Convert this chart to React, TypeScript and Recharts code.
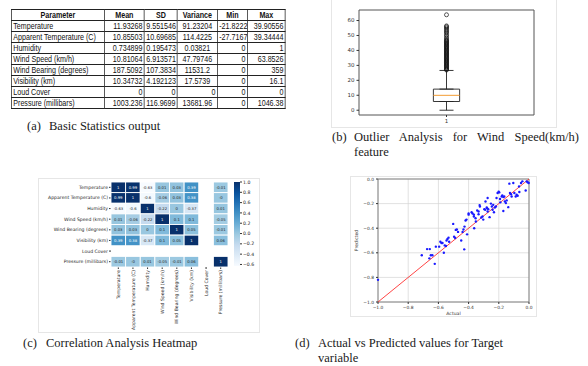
import React from 'react';
import {
  ScatterChart, Scatter, XAxis, YAxis, CartesianGrid, ReferenceArea, ReferenceLine,
  ErrorBar, BarChart, Bar,
} from 'recharts';

// (a) basic statistics table
const statHeaders = ['Parameter', 'Mean', 'SD', 'Variance', 'Min', 'Max'];
const statParams = ['Temperature', 'Apparent Temperature (C)', 'Humidity', 'Wind Speed (km/h)', 'Wind Bearing (degrees)', 'Visibility (km)', 'Loud Cover', 'Pressure (millibars)'];
const statMean = ['11.93268', '10.85503', '0.734899', '10.81064', '187.5092', '10.34732', '0', '1003.236'];
const statSd = ['9.551546', '10.69685', '0.195473', '6.913571', '107.3834', '4.192123', '0', '116.9699'];
const statVariance = ['91.23204', '114.4225', '0.03821', '47.79746', '11531.2', '17.5739', '0', '13681.96'];
const statMin = ['-21.8222', '-27.7167', '0', '0', '0', '0', '0', '0'];
const statMax = ['39.90556', '39.34444', '1', '63.8526', '359', '16.1', '0', '1046.38'];

// (b) wind speed box plot: whisker low, Q1, median, Q3, whisker high
const windBox = [0, 5.83, 9.97, 14.12, 26.6];
const windOutliers = [26.9, 27.4, 27.9, 28.5, 29.0, 29.6, 30.1, 30.6, 31.2, 31.7, 32.2, 32.8, 33.3, 33.8, 34.4,
  34.9, 35.4, 36.0, 36.5, 37.0, 37.6, 38.1, 38.6, 39.2, 39.7, 40.2, 40.8, 41.3, 41.9, 42.4, 42.9, 43.5, 44.0,
  44.6, 45.1, 45.6, 46.2, 46.7, 47.3, 48.3, 49.4, 50.4, 51.5, 52.4, 53.2, 54.1, 55.0, 55.8, 56.4, 63.85];
const windTicks = [0, 10, 20, 30, 40, 50, 60];

// (c) correlation heatmap
const corrLabels = ['Temperature', 'Apparent Temperature (C)', 'Humidity', 'Wind Speed (km/h)', 'Wind Bearing (degrees)', 'Visibility (km)', 'Loud Cover', 'Pressure (millibars)'];
const corrMatrix: (number | null)[][] = [
  [1, 0.99, -0.63, 0.01, 0.03, 0.39, null, -0.01],
  [0.99, 1, -0.6, -0.06, 0.03, 0.38, null, -0],
  [-0.63, -0.6, 1, -0.22, 0, -0.37, null, 0.01],
  [0.01, -0.06, -0.22, 1, 0.1, 0.1, null, -0.05],
  [0.03, 0.03, 0, 0.1, 1, 0.05, null, -0.01],
  [0.39, 0.38, -0.37, 0.1, 0.05, 1, null, 0.06],
  [null, null, null, null, null, null, null, null],
  [-0.01, -0, 0.01, -0.05, -0.01, 0.06, null, 1],
];
const corrTicks = [-0.6, -0.4, -0.2, 0, 0.2, 0.4, 0.6, 0.8, 1.0];

// (d) actual vs predicted
const actual = [-1.0, -0.71, -0.675, -0.657, -0.66, -0.65, -0.64, -0.624, -0.617, -0.595, -0.587, -0.58, -0.573,
  -0.564, -0.558, -0.55, -0.546, -0.54, -0.533, -0.529, -0.502, -0.496, -0.489, -0.485, -0.478, -0.47, -0.449,
  -0.44, -0.434, -0.427, -0.429, -0.42, -0.414, -0.41, -0.4, -0.4, -0.38, -0.374, -0.365, -0.365, -0.363, -0.354,
  -0.352, -0.343, -0.334, -0.334, -0.327, -0.325, -0.316, -0.308, -0.303, -0.296, -0.29, -0.288, -0.28, -0.277,
  -0.274, -0.27, -0.274, -0.261, -0.252, -0.246, -0.241, -0.237, -0.232, -0.226, -0.219, -0.215, -0.208, -0.201,
  -0.197, -0.192, -0.19, -0.181, -0.177, -0.17, -0.164, -0.17, -0.16, -0.153, -0.148, -0.137, -0.13, -0.126,
  -0.119, -0.115, -0.104, -0.097, -0.088, -0.082, -0.075, -0.064, -0.066, -0.053, -0.044, -0.022, -0.015, -0.009, -0.002];
const predicted = [-0.82, -0.62, -0.57, -0.57, -0.645, -0.62, -0.62, -0.69, -0.55, -0.55, -0.51, -0.52, -0.52,
  -0.6, -0.54, -0.545, -0.5, -0.487, -0.477, -0.51, -0.365, -0.47, -0.48, -0.414, -0.41, -0.43, -0.5,
  -0.43, -0.41, -0.387, -0.572, -0.338, -0.33, -0.45, -0.28, -0.29, -0.27, -0.28, -0.29, -0.305, -0.4, -0.319,
  -0.346, -0.256, -0.264, -0.286, -0.212, -0.223, -0.313, -0.305, -0.33, -0.245, -0.25, -0.183, -0.232, -0.237,
  -0.264, -0.245, -0.155, -0.31, -0.2, -0.223, -0.25, -0.21, -0.27, -0.232, -0.223, -0.155, -0.114, -0.104,
  -0.109, -0.163, -0.19, -0.142, -0.133, -0.147, -0.142, -0.26, -0.183, -0.196, -0.174, -0.229, -0.038, -0.114,
  -0.123, -0.142, -0.033, -0.114, -0.142, -0.128, -0.136, -0.106, -0.06, -0.033, -0.019, -0.093, -0.019, -0.027, -0.033];
const unitTicks = [-1.0, -0.8, -0.6, -0.4, -0.2, 0.0];

const BLUES = ['#f7fbff', '#deebf7', '#c6dbef', '#9ecae1', '#6baed6', '#4292c6', '#2171b5', '#08519c', '#08306b'];
const V_MIN = -0.63;
const V_MAX = 1;

const hexToRgb = (h: string) => [1, 3, 5].map(i => parseInt(h.slice(i, i + 2), 16));

const blues = (v: number) => {
  const t = Math.max(0, Math.min(1, (v - V_MIN) / (V_MAX - V_MIN)));
  const p = t * 8;
  const i = Math.min(7, Math.floor(p));
  const f = p - i;
  const a = hexToRgb(BLUES[i]);
  const b = hexToRgb(BLUES[i + 1]);
  return a.map((x, k) => Math.round(x + (b[k] - x) * f));
};

const luminance = (c: number[]) => {
  const l = c.map(x => {
    const s = x / 255;
    return s <= 0.03928 ? s / 12.92 : Math.pow((s + 0.055) / 1.055, 2.4);
  });
  return 0.2126 * l[0] + 0.7152 * l[1] + 0.0722 * l[2];
};

const fmtCorr = (v: number) => (v === 0 && 1 / v < 0 ? '-0' : String(v));
const fmtMinus = (v: number) => v.toFixed(1).replace('-', '\u2212');

const MPL = "'DejaVu Sans', sans-serif";
const SERIF = "'Liberation Serif', 'Times New Roman', serif";

// table is drawn wide and squeezed horizontally to get the narrow look
const TABLE_SQUEEZE = 0.75;
const colWidths = [93, 40, 33, 40, 30, 38];

// heatmap geometry
const HM_W = 194;
const HM_H = 155;
const HM_MARGIN = { top: 4, right: 4, bottom: 6, left: 0 };
const HM_YAXIS_W = 73;
const HM_XAXIS_H = 60;
const CELL_W = (HM_W - HM_MARGIN.left - HM_MARGIN.right - HM_YAXIS_W) / 8;
const CELL_H = (HM_H - HM_MARGIN.top - HM_MARGIN.bottom - HM_XAXIS_H) / 8;

const heatCells = corrMatrix.flatMap((row, r) =>
  row.map((v, c) => ({ x: c + 0.5, y: r + 0.5, v })).filter(d => d.v !== null)
);

const HeatCell = (props: any) => {
  const { cx, cy, payload } = props;
  const rgb = blues(payload.v);
  const textColor = luminance(rgb) > 0.408 ? '#262626' : '#ffffff';
  return (
    <g>
      <rect x={cx - CELL_W / 2} y={cy - CELL_H / 2} width={CELL_W} height={CELL_H}
        fill={`rgb(${rgb.join(',')})`} stroke="#ffffff" strokeWidth={0.9} />
      <text x={cx} y={cy} textAnchor="middle" dominantBaseline="central" fontSize={3.8}
        fontFamily={MPL} fill={textColor}>{fmtCorr(payload.v)}</text>
    </g>
  );
};

const RotatedTick = (props: any) => {
  const { x, y, payload } = props;
  return (
    <g transform={`translate(${x},${y})`}>
      <text transform="rotate(-90)" textAnchor="end" dy={1.6} fontSize={4.6} fontFamily={MPL} fill="#262626">
        {corrLabels[Math.floor(payload.value)]}
      </text>
    </g>
  );
};

const RowTick = (props: any) => {
  const { x, y, payload } = props;
  return (
    <text x={x} y={y} textAnchor="end" dominantBaseline="central" fontSize={4.6} fontFamily={MPL} fill="#262626">
      {corrLabels[Math.floor(payload.value)]}
    </text>
  );
};

const boxData = [{ x: 1, y: windBox[3], err: [0, windBox[4] - windBox[3]] }, { x: 1, y: windBox[1], err: [windBox[1] - windBox[0], 0] }];
const outlierData = windOutliers.map(v => ({ x: 1, y: v }));
const avpData = actual.map((a, i) => ({ a, p: predicted[i] }));

const panelBorder: React.CSSProperties = { position: 'absolute', border: '1px solid #e6e6e6', boxSizing: 'border-box', background: '#fff' };
const cellStyle: React.CSSProperties = { border: '1px solid #222', padding: '0 2px', height: 10, lineHeight: '10px', whiteSpace: 'nowrap', overflow: 'hidden' };

const Caption = ({ left, textLeft, top, label, text, width }: any) => (
  <>
    <div style={{ position: 'absolute', left, top, fontFamily: SERIF, fontSize: 12.5, lineHeight: '14px', color: '#1a1a1a' }}>{label}</div>
    <div style={{
      position: 'absolute', left: textLeft, top, width, fontFamily: SERIF, fontSize: 12.5, lineHeight: '14px', color: '#1a1a1a',
      textAlign: width ? 'justify' : 'left', textAlignLast: width ? 'justify' : 'auto', whiteSpace: 'nowrap',
    }}>{text}</div>
  </>
);

export default function App() {
  return (
    <div style={{ position: 'absolute', left: 0, top: 0, width: 588, height: 366, background: '#fff', overflow: 'hidden' }}>
      <svg width={0} height={0} style={{ position: 'absolute' }}>
        <defs>
          <linearGradient id="bluesGrad" x1="0" y1="1" x2="0" y2="0">
            {BLUES.map((c, i) => <stop key={c} offset={i / 8} stopColor={c} />)}
          </linearGradient>
        </defs>
      </svg>

      {/* (a) table */}
      <table style={{
        position: 'absolute', left: 11, top: 9, borderCollapse: 'collapse', tableLayout: 'fixed',
        width: colWidths.reduce((s, w) => s + w, 0) / TABLE_SQUEEZE, fontFamily: "'Liberation Sans', Arial, sans-serif",
        fontSize: 9.5, color: '#111', transform: `scaleX(${TABLE_SQUEEZE})`, transformOrigin: 'left top',
      }}>
        <colgroup>
          {colWidths.map((w, i) => <col key={i} style={{ width: w / TABLE_SQUEEZE }} />)}
        </colgroup>
        <tbody>
          <tr>
            {statHeaders.map(h => <td key={h} style={{ ...cellStyle, fontWeight: 'bold', textAlign: 'center' }}>{h}</td>)}
          </tr>
          {statParams.map((p, i) => (
            <tr key={p}>
              <td style={{ ...cellStyle, textAlign: 'left' }}>{p}</td>
              {[statMean, statSd, statVariance, statMin, statMax].map((col, k) => (
                <td key={k} style={{ ...cellStyle, textAlign: k === 2 && col[i] !== '0' ? 'center' : 'right' }}>{col[i]}</td>
              ))}
            </tr>
          ))}
        </tbody>
      </table>
      <Caption left={27} textLeft={49} top={119} label="(a)" text="Basic Statistics output" />

      {/* (b) box plot */}
      <div style={{ ...panelBorder, left: 331, top: -2, width: 226, height: 130 }} />
      <div style={{ position: 'absolute', left: 333, top: 0 }}>
        <ScatterChart width={224} height={128} margin={{ top: 10, right: 23, bottom: 3, left: 0 }}>
          <XAxis type="number" dataKey="x" domain={[0.5, 1.5]} ticks={[1]} height={10} tickSize={2}
            axisLine={false} tick={{ fontSize: 5.5, fontFamily: MPL, fill: '#333' }} stroke="#333" />
          <YAxis type="number" dataKey="y" domain={[-3.19, 67.04]} ticks={windTicks} width={26} tickSize={2.5}
            axisLine={false} tick={{ fontSize: 5.5, fontFamily: MPL, fill: '#333' }} stroke="#333" />
          <ReferenceArea x1={0.5} x2={1.5} y1={-3.19} y2={67.04} fill="none" stroke="#555" strokeWidth={1} />
          <ReferenceArea x1={0.925} x2={1.075} y1={windBox[1]} y2={windBox[3]} fill="#fff" fillOpacity={1} stroke="#222" strokeWidth={0.9} />
          <ReferenceLine segment={[{ x: 0.925, y: windBox[2] }, { x: 1.075, y: windBox[2] }]} stroke="#f39c33" strokeWidth={1} />
          <Scatter data={boxData} isAnimationActive={false} shape={() => <g />}>
            <ErrorBar dataKey="err" direction="y" width={7} stroke="#222" strokeWidth={0.9} isAnimationActive={false} />
          </Scatter>
          <Scatter data={outlierData} isAnimationActive={false}
            shape={(p: any) => <circle cx={p.cx} cy={p.cy} r={2} fill="none" stroke="#111" strokeWidth={0.7} />} />
        </ScatterChart>
      </div>
      <Caption left={332} textLeft={354} top={130} label="(b)" text="Outlier Analysis for Wind Speed(km/h)" width={225} />
      <Caption left={354} textLeft={354} top={145} label="" text="feature" />

      {/* (c) heatmap */}
      <div style={{ ...panelBorder, left: 38, top: 178, width: 222, height: 155 }} />
      <div style={{ position: 'absolute', left: 38, top: 178 }}>
        <ScatterChart width={HM_W} height={HM_H} margin={HM_MARGIN}>
          <XAxis type="number" dataKey="x" domain={[0, 8]} ticks={[0.5, 1.5, 2.5, 3.5, 4.5, 5.5, 6.5, 7.5]}
            height={HM_XAXIS_H} tickSize={2} tickMargin={1} axisLine={false} stroke="#333" tick={RotatedTick} interval={0} />
          <YAxis type="number" dataKey="y" domain={[0, 8]} reversed ticks={[0.5, 1.5, 2.5, 3.5, 4.5, 5.5, 6.5, 7.5]}
            width={HM_YAXIS_W} tickSize={2} tickMargin={1} axisLine={false} stroke="#333" interval={0}
            tick={RowTick} />
          <Scatter data={heatCells} isAnimationActive={false} shape={HeatCell} />
        </ScatterChart>
      </div>
      <div style={{ position: 'absolute', left: 230, top: 178 }}>
        <BarChart width={30} height={95} data={[{ n: 'cb', r: [V_MIN, V_MAX] }]} margin={{ top: 4, right: 2, bottom: 7, left: 4 }}
          barCategoryGap={0}>
          <XAxis dataKey="n" hide />
          <YAxis orientation="right" type="number" domain={[V_MIN, V_MAX]} ticks={corrTicks} width={18}
            tickSize={2} tickMargin={1} axisLine={false} stroke="#333" interval={0}
            tickFormatter={fmtMinus} tick={{ fontSize: 4.6, fontFamily: MPL, fill: '#262626' }} />
          <Bar dataKey="r" fill="url(#bluesGrad)" isAnimationActive={false} />
        </BarChart>
      </div>
      <Caption left={23} textLeft={46} top={336} label="(c)" text="Correlation Analysis Heatmap" />

      {/* (d) actual vs predicted */}
      <div style={{ ...panelBorder, left: 350, top: 176, width: 187, height: 141 }} />
      <div style={{ position: 'absolute', left: 350, top: 176 }}>
        <ScatterChart width={187} height={141} margin={{ top: 3, right: 8, bottom: 0, left: 0 }}>
          <CartesianGrid stroke="#d4d4d4" strokeWidth={0.7} />
          <XAxis type="number" dataKey="a" domain={[-1, 0]} ticks={unitTicks} height={15} tickSize={2}
            axisLine={false} stroke="#333" interval={0} tickFormatter={fmtMinus}
            tick={{ fontSize: 4.4, fontFamily: MPL, fill: '#333' }}
            label={{ value: 'Actual', position: 'insideBottom', offset: 2, style: { fontSize: 4.6, fontFamily: MPL, fill: '#333' } }} />
          <YAxis type="number" dataKey="p" domain={[-1, 0]} ticks={unitTicks} width={28} tickSize={2}
            axisLine={false} stroke="#333" interval={0} tickFormatter={fmtMinus}
            tick={{ fontSize: 4.4, fontFamily: MPL, fill: '#333' }}
            label={{ value: 'Predicted', angle: -90, position: 'insideLeft', offset: 6, style: { fontSize: 4.6, fontFamily: MPL, fill: '#333', textAnchor: 'middle' } }} />
          <ReferenceArea x1={-1} x2={0} y1={-1} y2={0} fill="none" stroke="#777" strokeWidth={0.9} />
          <Scatter data={avpData} isAnimationActive={false}
            shape={(p: any) => <circle cx={p.cx} cy={p.cy} r={1.2} fill="#1a1aff" />} />
          <ReferenceLine segment={[{ x: -1, y: -1 }, { x: 0, y: 0 }]} stroke="#ff3030" strokeWidth={0.9} />
        </ScatterChart>
      </div>
      <Caption left={295} textLeft={318} top={336} label="(d)" text="Actual vs Predicted values for Target" width={180} />
      <Caption left={318} textLeft={318} top={351} label="" text="variable" />
    </div>
  );
}
